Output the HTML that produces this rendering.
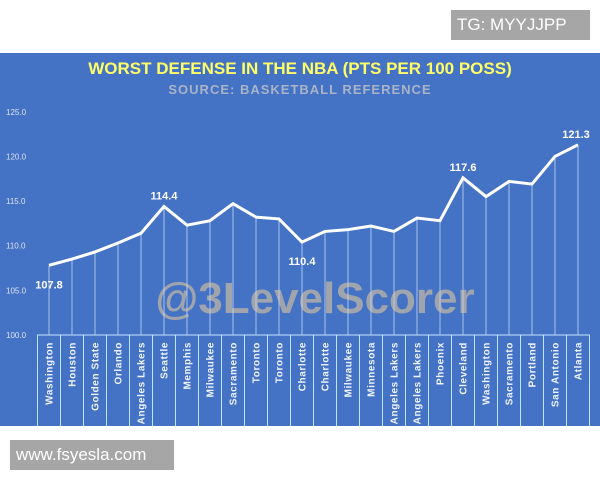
<!DOCTYPE html>
<html><head><meta charset="utf-8"><style>
html,body{margin:0;padding:0;background:#fff;width:600px;height:480px;overflow:hidden;font-family:"Liberation Sans",sans-serif}
svg{position:absolute;left:0;top:0}
.box{position:absolute;background:#a6a6a6;color:#fff;font-size:17px;display:flex;align-items:center;padding-left:6px;box-sizing:border-box}
</style></head><body>
<svg id="chart" width="600" height="480">
<defs><clipPath id="tclip"><rect x="0" y="330" width="600" height="96"/></clipPath></defs>
<rect x="0" y="53" width="600" height="373" fill="#4472c4"/>
<text x="300" y="74" text-anchor="middle" font-size="17" font-weight="bold" fill="#ffff66">WORST DEFENSE IN THE NBA (PTS PER 100 POSS)</text>
<text x="300" y="94" text-anchor="middle" font-size="13" font-weight="bold" fill="#a9b4c8" letter-spacing="1">SOURCE: BASKETBALL REFERENCE</text>
<text x="315" y="313" text-anchor="middle" font-size="44" font-weight="bold" fill="#a0a4ac">@3LevelScorer</text>
<g id="axis"></g><g id="table" clip-path="url(#tclip)"></g><g id="drops"></g><g id="series"></g><g id="labels"></g>
</svg>
<div class="box" style="left:451px;top:10px;width:139px;height:30px;font-size:17px">TG: MYYJJPP</div>
<div class="box" style="left:10px;top:440px;width:164px;height:30px">www.fsyesla.com</div>
<script>
const categories=["Washington","Houston","Golden State","Orlando","Los Angeles Lakers","Seattle","Memphis","Milwaukee","Sacramento","Toronto","Toronto","Charlotte","Charlotte","Milwaukee","Minnesota","Los Angeles Lakers","Los Angeles Lakers","Phoenix","Cleveland","Washington","Sacramento","Portland","San Antonio","Atlanta"];
const values=[107.8,108.5,109.3,110.3,111.4,114.4,112.3,112.8,114.7,113.2,113.0,110.4,111.6,111.8,112.2,111.6,113.1,112.8,117.6,115.5,117.2,116.9,120.0,121.3];
const yTicks=[100,105,110,115,120,125];
const labeled=[0,5,11,18,23];
const NS="http://www.w3.org/2000/svg";
const x0=37.5,colW=23;
function xs(i){return x0+colW*(i+0.5);}
function ys(v){return 335-(v-100)*8.93;}
function mk(t,a,p){const e=document.createElementNS(NS,t);for(const k in a)e.setAttribute(k,a[k]);p.appendChild(e);return e;}
const axis=document.getElementById('axis');
yTicks.forEach(v=>{const t=mk('text',{x:6,y:ys(v)+3,'font-size':8,fill:'#dde4f2'},axis);t.textContent=v.toFixed(1);

});
const table=document.getElementById('table');
categories.forEach((c,i)=>{
 const r=mk('rect',{x:x0+colW*i,y:335,width:colW,height:100,fill:'none',stroke:'#bfe6ff','stroke-width':1},table);
 
 
 const t=mk('text',{x:0,y:0,'font-size':10,'font-weight':'bold',fill:'#f0f4ff','text-anchor':'end','letter-spacing':'0.6',transform:`translate(${xs(i)+3.5},342) rotate(-90)`},table);
 t.textContent=c;
 
 
});
const drops=document.getElementById('drops');
values.forEach((v,i)=>{const l=mk('line',{x1:xs(i),x2:xs(i),y1:ys(v),y2:335,stroke:'#c8d6f0','stroke-width':0.8},drops);

});
const series=document.getElementById('series');
const pl=mk('polyline',{points:values.map((v,i)=>xs(i)+','+ys(v)).join(' '),fill:'none',stroke:'#fff','stroke-width':3,'stroke-linejoin':'miter'},series);


const lab=document.getElementById('labels');
labeled.forEach(i=>{const v=values[i];const below=(i===0||i===11);
 const t=mk('text',{x:xs(i)+(i===23?-2:0),y:below?ys(v)+23:ys(v)-7,'text-anchor':'middle','font-size':11,'font-weight':'bold',fill:'#fff'},lab);
 t.textContent=v.toFixed(1);
 
 });
</script>
</body></html>
